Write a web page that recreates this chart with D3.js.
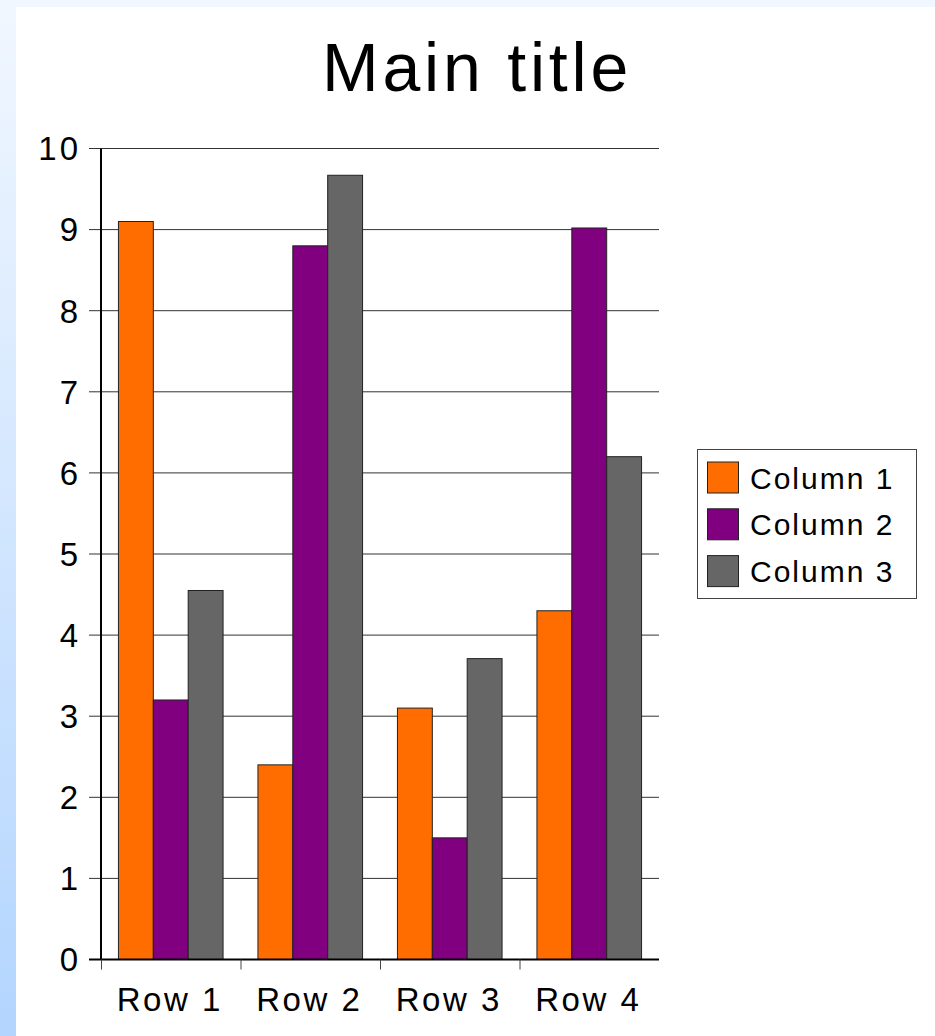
<!DOCTYPE html>
<html>
<head>
<meta charset="utf-8">
<script src="https://cdn.jsdelivr.net/npm/d3@7"></script>
<style>
    html, body { margin: 0; padding: 0; background: #fff; }
    svg { display: block; }
</style>
</head>
<body>
<svg id="chart" width="935" height="1036"></svg>
<script>
// chart data
const rows = ["Row 1", "Row 2", "Row 3", "Row 4"];
const columns = ["Column 1", "Column 2", "Column 3"];
const column1 = [9.1, 2.4, 3.1, 4.3];
const column2 = [3.2, 8.8, 1.5, 9.02];
const column3 = [4.55, 9.67, 3.71, 6.2];
const yTicks = [0, 1, 2, 3, 4, 5, 6, 7, 8, 9, 10];
const colors = ["#ff6d00", "#800080", "#666666"];

const series = [column1, column2, column3];
const font = "'Liberation Sans', Arial, sans-serif";

const svg = d3.select("#chart");

// light blue page frame behind the white chart area
const defs = svg.append("defs");
const grad = defs.append("linearGradient")
    .attr("id", "bg").attr("x1", 0).attr("y1", 0).attr("x2", 0).attr("y2", 1);
grad.append("stop").attr("offset", "0%").attr("stop-color", "#f1f7ff");
grad.append("stop").attr("offset", "100%").attr("stop-color", "#b3d5fe");

svg.append("rect").attr("width", 935).attr("height", 1036).attr("fill", "url(#bg)");
svg.append("rect").attr("x", 16).attr("y", 7).attr("width", 919).attr("height", 1029).attr("fill", "#fff");

// scales
const x0 = d3.scaleBand().domain(rows).range([101, 659]).padding(0);
const x1 = d3.scaleBand().domain(columns).range([0, x0.bandwidth()]).paddingInner(0).paddingOuter(0.5);
const y = d3.scaleLinear().domain([0, 10]).range([959.5, 148.5]);

// gridlines with short outer ticks
svg.append("g")
    .selectAll("line")
    .data(yTicks)
    .join("line")
    .attr("x1", 89)
    .attr("x2", 659)
    .attr("y1", d => y(d))
    .attr("y2", d => y(d))
    .attr("stroke", "#333")
    .attr("stroke-width", 1);

// bars
const groups = svg.append("g")
    .selectAll("g")
    .data(rows)
    .join("g")
    .attr("transform", d => "translate(" + x0(d) + ",0)");

groups.selectAll("rect")
    .data((d, i) => columns.map((c, j) => ({ col: c, value: series[j][i], color: colors[j] })))
    .join("rect")
    .attr("x", d => x1(d.col))
    .attr("y", d => y(d.value))
    .attr("width", x1.bandwidth())
    .attr("height", d => y(0) - y(d.value))
    .attr("fill", d => d.color)
    .attr("stroke", "#222")
    .attr("stroke-width", 1);

// y axis line
svg.append("line")
    .attr("x1", 101).attr("x2", 101)
    .attr("y1", y(10)).attr("y2", y(0))
    .attr("stroke", "#000").attr("stroke-width", 2);

// x axis line and category ticks
svg.append("line")
    .attr("x1", 89).attr("x2", 659)
    .attr("y1", y(0)).attr("y2", y(0))
    .attr("stroke", "#000").attr("stroke-width", 2);

svg.append("g")
    .selectAll("line")
    .data(rows)
    .join("line")
    .attr("x1", d => x0(d) + 0.5)
    .attr("x2", d => x0(d) + 0.5)
    .attr("y1", y(0))
    .attr("y2", y(0) + 10)
    .attr("stroke", "#444")
    .attr("stroke-width", 1);

// y tick labels
svg.append("g")
    .selectAll("text")
    .data(yTicks)
    .join("text")
    .attr("x", 81)
    .attr("y", d => y(d))
    .attr("dy", "0.36em")
    .attr("text-anchor", "end")
    .attr("font-family", font)
    .attr("font-size", 33)
    .attr("letter-spacing", 3)
    .text(d => d);

// x category labels
svg.append("g")
    .selectAll("text")
    .data(rows)
    .join("text")
    .attr("x", d => x0(d) + x0.bandwidth() / 2 - 1)
    .attr("y", 1011)
    .attr("text-anchor", "middle")
    .attr("font-family", font)
    .attr("font-size", 33)
    .attr("letter-spacing", 2.5)
    .text(d => d);

// title
svg.append("text")
    .attr("x", 477)
    .attr("y", 91)
    .attr("text-anchor", "middle")
    .attr("font-family", font)
    .attr("font-size", 68)
    .attr("letter-spacing", 3.8)
    .text("Main title");

// legend
const legend = svg.append("g");
legend.append("rect")
    .attr("x", 697.5).attr("y", 449.5)
    .attr("width", 219).attr("height", 149)
    .attr("fill", "#fff").attr("stroke", "#444").attr("stroke-width", 1);

const items = legend.selectAll("g.item")
    .data(columns)
    .join("g")
    .attr("class", "item")
    .attr("transform", (d, i) => "translate(0," + (i * 46.8) + ")");

items.append("rect")
    .attr("x", 707.5).attr("y", 462)
    .attr("width", 31).attr("height", 31)
    .attr("fill", (d, i) => colors[i])
    .attr("stroke", "#222").attr("stroke-width", 1);

items.append("text")
    .attr("x", 750)
    .attr("y", 488.5)
    .attr("font-family", font)
    .attr("font-size", 30)
    .attr("letter-spacing", 2)
    .text(d => d);
</script>
</body>
</html>
